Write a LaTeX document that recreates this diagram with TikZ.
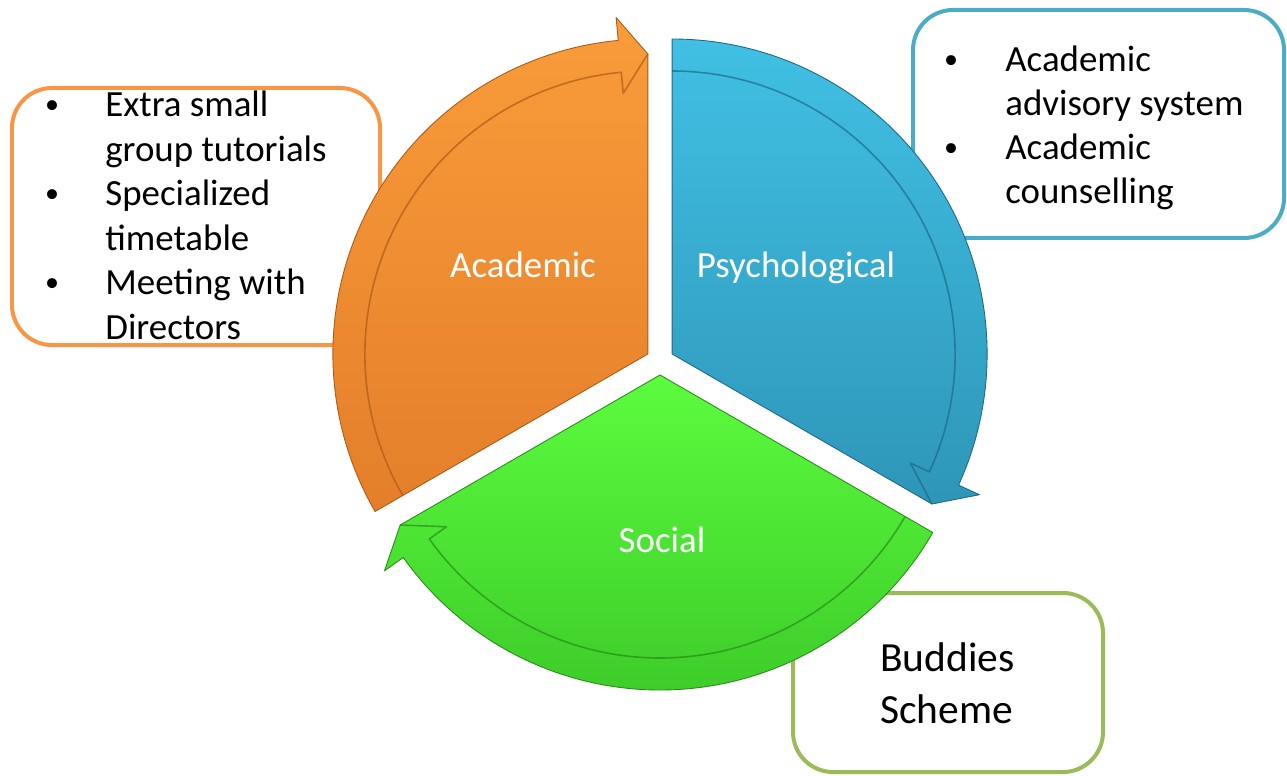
\documentclass[tikz,border=0pt]{standalone}
\usepackage{fontspec}
\setmainfont{Carlito}
\definecolor{orgtop}{RGB}{249,156,58}
\definecolor{orgbot}{RGB}{228,126,42}
\definecolor{orgedge}{RGB}{170,90,25}
\definecolor{blutop}{RGB}{64,192,228}
\definecolor{blubot}{RGB}{46,150,184}
\definecolor{bluedge}{RGB}{30,105,135}
\definecolor{grntop}{RGB}{92,252,62}
\definecolor{grnbot}{RGB}{62,205,42}
\definecolor{grnedge}{RGB}{40,140,25}
\definecolor{orgline}{RGB}{247,150,70}
\definecolor{bluline}{RGB}{75,172,198}
\definecolor{grnline}{RGB}{155,187,89}
\tikzset{
  sector/.style={line width=0.5pt, line join=round},
  bandline/.style={line width=0.9pt, opacity=0.7, line join=round},
  infobox/.style={rounded corners=0.8cm, line width=0.08cm, fill=white},
  item/.style={anchor=base west, inner sep=0pt, font=\fontsize{21}{25.3}\selectfont},
  dot/.style={anchor=base, inner sep=0pt, font=\fontsize{16}{19}\selectfont},
  bigitem/.style={anchor=base west, inner sep=0pt, font=\fontsize{23.6}{29.4}\selectfont},
  seclabel/.style={anchor=base, inner sep=0pt, text=white, font=\fontsize{21}{25.3}\selectfont}
}
\begin{document}
\begin{tikzpicture}[x=0.02cm,y=0.02cm]
\useasboundingbox (0,0) rectangle (1287,775);
% text boxes behind the wheel
\draw[infobox, draw=orgline] (12,687) rectangle (380,430);
\draw[infobox, draw=bluline] (913,765) rectangle (1284,537);
\draw[infobox, draw=grnline] (793,182) rectangle (1103,3);
\foreach \txt [count=\i] in {Extra small, group tutorials, Specialized, timetable, Meeting with, Directors}
  \node[item] (aca\i) at (105,702.8-44.5*\i) {\txt};
\foreach \i in {1,3,5}
  \node[dot] (acb\i) at (52,705.8-44.5*\i) {\textbullet};
\foreach \txt [count=\i] in {Academic, advisory system, Academic, counselling}
  \node[item] (psy\i) at (1005,747.1-43.8*\i) {\txt};
\foreach \i in {1,3}
  \node[dot] (psb\i) at (951,750.1-43.8*\i) {\textbullet};
\node[bigitem] (soc1) at (880,103.3) {Buddies};
\node[bigitem] (soc2) at (880,51.7) {Scheme};
% wheel
\coordinate (ctr) at (660,414);
\begin{scope}[shift={(ctr)}, shift={(150:14)}]
  \path[sector, top color=orgtop, bottom color=orgbot, draw=orgedge] (0,0) -- (210:315) arc[start angle=210, end angle=95.4, radius=315] -- (95.4:338) -- (90:300) -- cycle;
  \draw[bandline, draw=orgedge] (210:283) arc[start angle=210, end angle=95.4, radius=283] -- (95.4:262) -- (90:300);
\end{scope}
\begin{scope}[shift={(ctr)}, shift={(30:14)}]
  \path[sector, top color=blutop, bottom color=blubot, draw=bluedge] (0,0) -- (90:315) arc[start angle=90, end angle=-24.6, radius=315] -- (-24.6:338) -- (-30:300) -- cycle;
  \draw[bandline, draw=bluedge] (90:283) arc[start angle=90, end angle=-24.6, radius=283] -- (-24.6:262) -- (-30:300);
\end{scope}
\begin{scope}[shift={(ctr)}, shift={(270:14)}]
  \path[sector, top color=grntop, bottom color=grnbot, draw=grnedge] (0,0) -- (-30:315) arc[start angle=-30, end angle=-144.6, radius=315] -- (-144.6:338) -- (-150:300) -- cycle;
  \draw[bandline, draw=grnedge] (-30:283) arc[start angle=-30, end angle=-144.6, radius=283] -- (-144.6:262) -- (-150:300);
\end{scope}
\node[seclabel] (acad) at (523,498) {Academic};
\node[seclabel] (psych) at (796,498) {Psychological};
\node[seclabel] (social) at (662,222.3) {Social};
\end{tikzpicture}
\end{document}
